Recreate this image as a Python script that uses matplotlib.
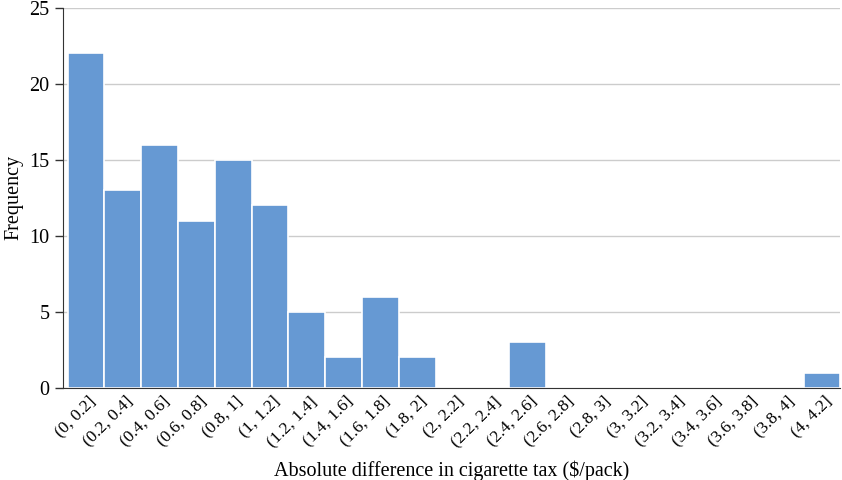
import numpy as np
import matplotlib.pyplot as plt

plt.rcParams['font.family'] = ['Liberation Serif', 'DejaVu Serif']

# Bin labels and counts
bins = ['(0, 0.2]', '(0.2, 0.4]', '(0.4, 0.6]', '(0.6, 0.8]', '(0.8, 1]',
        '(1, 1.2]', '(1.2, 1.4]', '(1.4, 1.6]', '(1.6, 1.8]', '(1.8, 2]',
        '(2, 2.2]', '(2.2, 2.4]', '(2.4, 2.6]', '(2.6, 2.8]', '(2.8, 3]',
        '(3, 3.2]', '(3.2, 3.4]', '(3.4, 3.6]', '(3.6, 3.8]', '(3.8, 4]',
        '(4, 4.2]']
counts = [22, 13, 16, 11, 15, 12, 5, 2, 6, 2, 0, 0, 3, 0, 0, 0, 0, 0, 0, 0, 1]
yticks = [0, 5, 10, 15, 20, 25]

fig = plt.figure(figsize=(8.42, 4.8), dpi=100)
ax = fig.add_axes([0.075, 0.192, 0.923, 0.792])

x = np.arange(len(bins))
ax.bar(x, counts, width=1.0, align='edge', color='#6699d3',
       edgecolor='white', linewidth=1.2, zorder=3)

ax.set_xlim(-0.12, len(bins))
ax.set_ylim(0, 25)
ax.set_yticks(yticks)
ax.yaxis.grid(True, color='#cccccc', linewidth=1, zorder=0)

ax.set_xticks(x + 0.55)
ax.set_xticklabels(bins, rotation=45, ha='right', rotation_mode='anchor',
                   fontsize=12.5)
ax.tick_params(axis='x', length=0, pad=4)
ax.tick_params(axis='y', length=6, width=1, labelsize=14.5, color='#333333',
               pad=4)

for s in ['top', 'right']:
    ax.spines[s].set_visible(False)
ax.spines['left'].set_color('#333333')
ax.spines['bottom'].set_color('#333333')
ax.spines['bottom'].set_zorder(4)

ax.set_xlabel('Absolute difference in cigarette tax ($/pack)', fontsize=14.5,
              labelpad=8)
ax.set_ylabel('Frequency', fontsize=14.5, labelpad=4)

fig.savefig('out.png', dpi=100)
